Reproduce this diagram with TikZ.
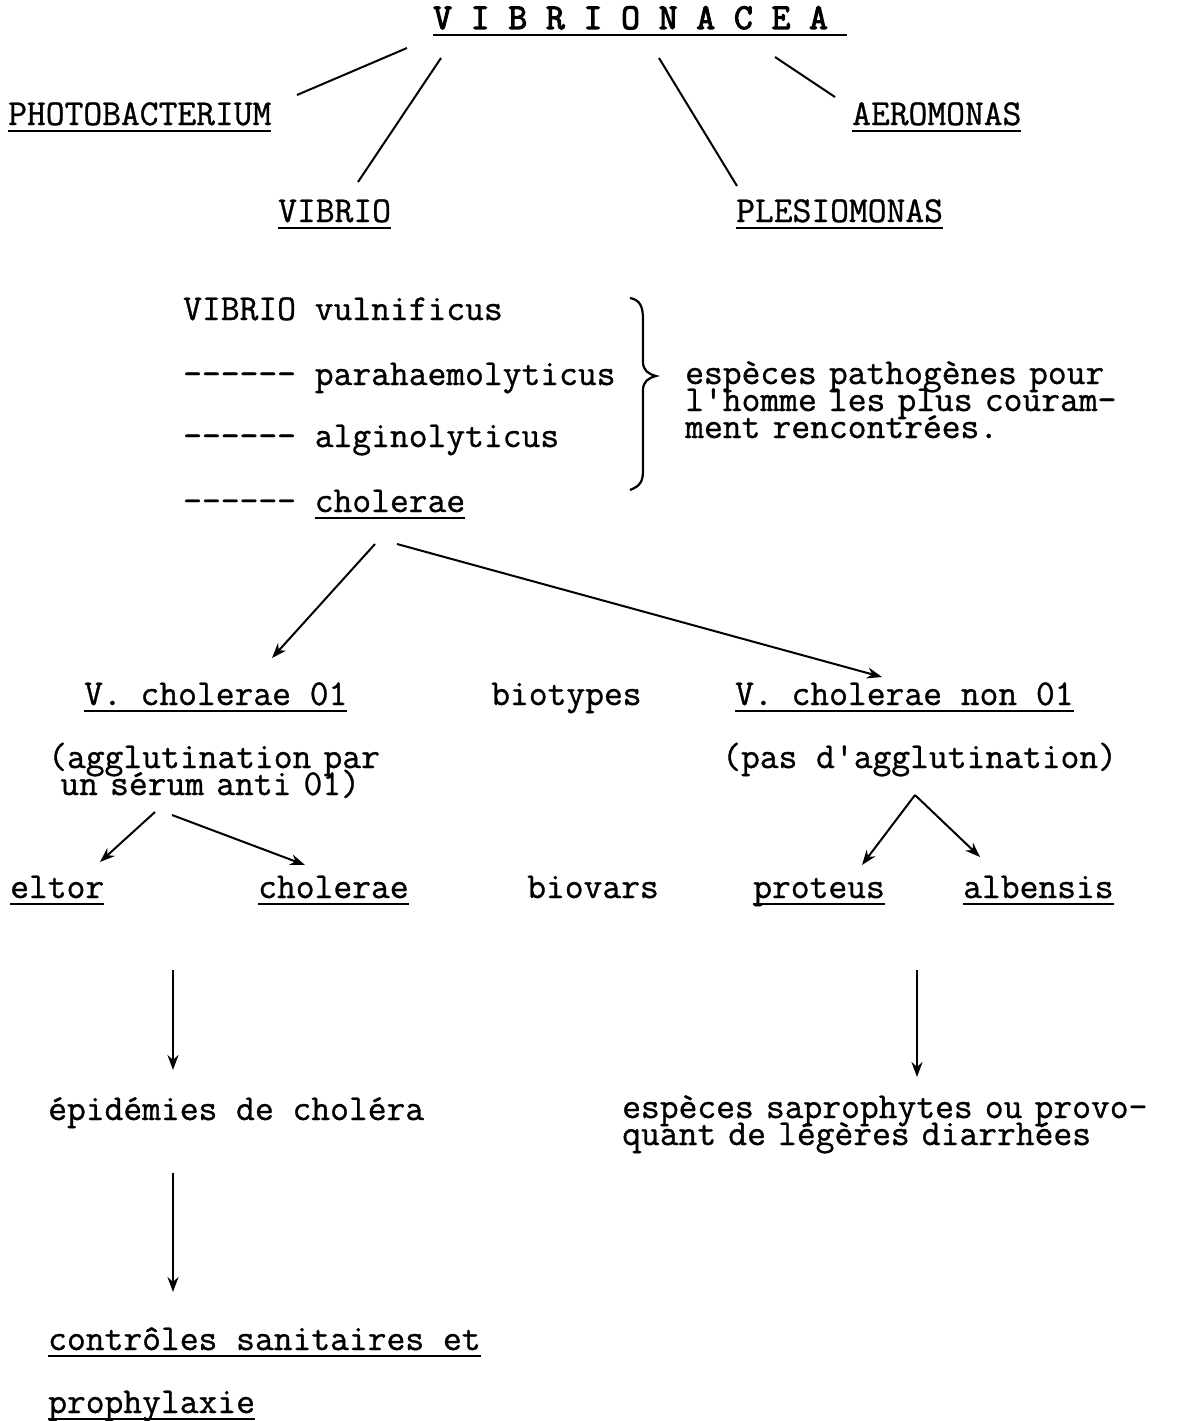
\documentclass[tikz,border=0pt]{standalone}
\usepackage{fontspec}
\setmonofont{Latin Modern Mono}[FakeBold=0.9, BoldFont=Latin Modern Mono, BoldFeatures={FakeBold=3}]
\usepackage{tikz}
\usetikzlibrary{arrows.meta}

\newcommand\tyfont{\ttfamily\fontsize{36.5}{27}\selectfont\lineskiplimit=-100pt}
\newcommand\ulin[1]{\sbox0{#1}\rlap{\rule[-7pt]{\wd0}{1.8pt}}\usebox0}

\begin{document}
\begin{tikzpicture}[
        x=1pt, y=-1pt,
        text_style/.style={anchor=base west, inner sep=0pt, font=\tyfont},
        multi_style/.style={text_style, text width=640pt, align=left},
        link_style/.style={line width=2pt},
        arrow_style/.style={link_style, -{Stealth[length=15pt, width=11pt]}}
    ]
        \useasboundingbox (0,0) rectangle (1181,1421);

        % Family and genera
        \node[text_style, font=\tyfont\bfseries] (fam) at (433,29) {\ulin{V I B R I O N A C E A\ }};
        \node[text_style] (photo) at (8,125) {\ulin{PHOTOBACTERIUM}};
        \node[text_style] (aero) at (852,125) {\ulin{AEROMONAS}};
        \node[text_style] (vib) at (278,222) {\ulin{VIBRIO}};
        \node[text_style] (plesio) at (736,222) {\ulin{PLESIOMONAS}};

        % Species
        \node[text_style] (vul) at (183,320) {VIBRIO vulnificus};
        \node[text_style] (para) at (183,385) {------ parahaemolyticus};
        \node[text_style] (algi) at (183,447) {------ alginolyticus};
        \node[text_style] (chol) at (183,512) {------ \ulin{cholerae}};
        \node[multi_style] (patho) at (685,384) {esp\`eces pathog\`enes pour\\l'homme les plus couram-\\ment rencontr\'ees.};

        % Biotypes
        \node[text_style] (ovo) at (84,705) {\ulin{V. cholerae 01}};
        \node[text_style] (biot) at (491,705) {biotypes};
        \node[text_style] (nonovo) at (735,705) {\ulin{V. cholerae non 01}};
        \node[multi_style] (aggl) at (48,768) {(agglutination par\\~un s\'erum anti 01)};
        \node[text_style] (pasag) at (722,768) {(pas d'agglutination)};

        % Biovars
        \node[text_style] (eltor) at (10,898) {\ulin{eltor}};
        \node[text_style] (cholb) at (258,898) {\ulin{cholerae}};
        \node[text_style] (biov) at (527,898) {biovars};
        \node[text_style] (prot) at (753,898) {\ulin{proteus}};
        \node[text_style] (albe) at (963,898) {\ulin{albensis}};

        % Consequences
        \node[text_style] (epid) at (48,1120) {\'epid\'emies de chol\'era};
        \node[multi_style] (sapro) at (622,1118) {esp\`eces saprophytes ou provo-\\quant de l\'eg\`eres diarrh\'ees};
        \node[text_style] (contr) at (48,1350) {\ulin{contr\^oles sanitaires et}};
        \node[text_style] (proph) at (48,1413) {\ulin{prophylaxie}};

        % Brace
        \draw[link_style, line width=2.2pt] (630,298) .. controls (641,300) and (643,308) .. (643,320)
            -- (643,362) .. controls (643,370) and (648,374) .. (656,376)
            .. controls (648,378) and (643,382) .. (643,390)
            -- (643,470) .. controls (643,482) and (640,486) .. (630,490);

        % Lines
        \draw[link_style] ([shift={(-26,19)}]fam.base west) -- ([shift={(289,-30)}]photo.base west);
        \draw[link_style] ([shift={(8,29)}]fam.base west) -- ([shift={(80,-40)}]vib.base west);
        \draw[link_style] ([shift={(226,29)}]fam.base west) -- ([shift={(1,-36)}]plesio.base west);
        \draw[link_style] ([shift={(342,28)}]fam.base west) -- ([shift={(-17,-28)}]aero.base west);

        % Arrows
        \draw[arrow_style] ([shift={(192,32)}]chol.base west) -- ([shift={(188,-47)}]ovo.base west);
        \draw[arrow_style] ([shift={(214,32)}]chol.base west) -- ([shift={(147,-28)}]nonovo.base west);
        \draw[arrow_style] ([shift={(107,44)}]aggl.base west) -- ([shift={(90,-36)}]eltor.base west);
        \draw[arrow_style] ([shift={(124,47)}]aggl.base west) -- ([shift={(47,-33)}]cholb.base west);
        \draw[arrow_style] ([shift={(193,27)}]pasag.base west) -- ([shift={(109,-33)}]prot.base west);
        \draw[arrow_style] ([shift={(193,27)}]pasag.base west) -- ([shift={(17,-41)}]albe.base west);
        \draw[arrow_style] ([shift={(163,72)}]eltor.base west) -- ([shift={(125,-50)}]epid.base west);
        \draw[arrow_style] ([shift={(164,72)}]prot.base west) -- ([shift={(295,-41)}]sapro.base west);
        \draw[arrow_style] ([shift={(125,53)}]epid.base west) -- ([shift={(125,-58)}]contr.base west);
    \end{tikzpicture}
\end{document}
